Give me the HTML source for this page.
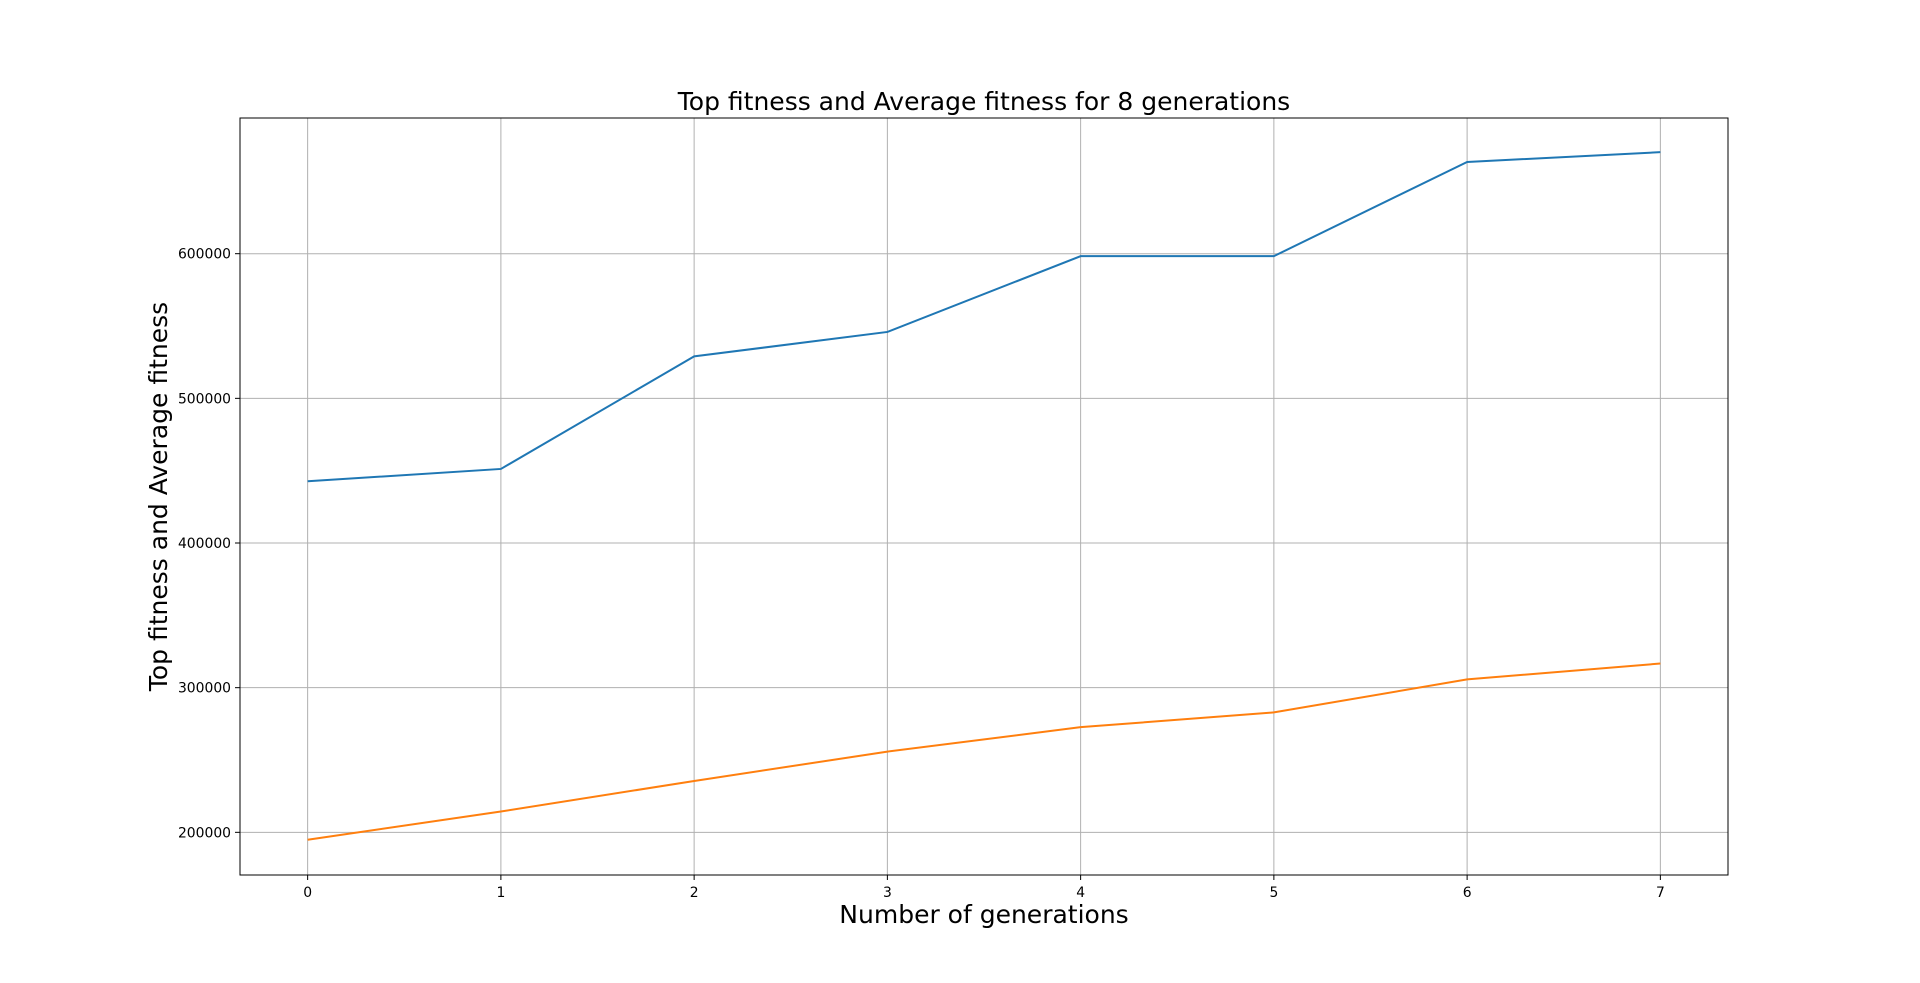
<!DOCTYPE html>
<html><head><meta charset="utf-8"><style>
html,body{margin:0;padding:0;background:#fff;}
svg{display:block;font-family:"DejaVu Sans","Liberation Sans",sans-serif;}
</style></head><body>
<svg id="chart" width="1920" height="983"></svg>
<script>
const categories=[0,1,2,3,4,5,6,7];
const topFitness=[442700,451200,529000,545900,598300,598300,663400,670200];
const avgFitness=[194900,214400,235500,255800,272700,282900,305700,316700];
const yTicks=[200000,300000,400000,500000,600000];
const L=240,R=1728,T=118,B=875;
const xMin=-0.35,xMax=7.35,yMin=170500,yMax=693800;
const sx=v=>L+(v-xMin)/(xMax-xMin)*(R-L);
const sy=v=>B-(v-yMin)/(yMax-yMin)*(B-T);
const NS="http://www.w3.org/2000/svg";
const svg=document.getElementById('chart');
function mk(tag,attrs,parent){const e=document.createElementNS(NS,tag);for(const k in attrs)e.setAttribute(k,attrs[k]);(parent||svg).appendChild(e);return e;}
const grid=mk('g',{});


categories.forEach(c=>{
  const x=sx(c);
  const gl=mk('line',{x1:x,x2:x,y1:T,y2:B,stroke:'#b0b0b0','stroke-width':1},grid);
  
  
  mk('line',{x1:x,x2:x,y1:B,y2:B+5,stroke:'#000','stroke-width':1});
  const t=mk('text',{x:x,y:B+22,'text-anchor':'middle','font-size':13.9,fill:'#000'});
  t.textContent=c;
  
  
});
yTicks.forEach(v=>{
  const y=sy(v);
  const gl=mk('line',{x1:L,x2:R,y1:y,y2:y,stroke:'#b0b0b0','stroke-width':1},grid);
  
  
  mk('line',{x1:L-5,x2:L,y1:y,y2:y,stroke:'#000','stroke-width':1});
  const t=mk('text',{x:L-9,y:y+5,'text-anchor':'end','font-size':13.9,fill:'#000'});
  t.textContent=v;
  
  
});
function line(vals,color,name){
  const p=mk('polyline',{points:vals.map((v,i)=>sx(categories[i])+','+sy(v)).join(' '),fill:'none',stroke:color,'stroke-width':2});
  
  
}
line(topFitness,'#1f77b4','top-fitness-line');
line(avgFitness,'#ff7f0e','average-fitness-line');
const fr=mk('rect',{x:L,y:T,width:R-L,height:B-T,fill:'none',stroke:'#000','stroke-width':1});


const title=mk('text',{x:(L+R)/2,y:110,'text-anchor':'middle','font-size':25,fill:'#000'});
title.textContent='Top fitness and Average fitness for 8 generations';


const xl=mk('text',{x:(L+R)/2,y:923,'text-anchor':'middle','font-size':25,fill:'#000'});
xl.textContent='Number of generations';


const yl=mk('text',{x:0,y:0,'text-anchor':'middle','font-size':25,fill:'#000',transform:'translate(167,'+((T+B)/2)+') rotate(-90)'});
yl.textContent='Top fitness and Average fitness';


</script>
</body></html>
